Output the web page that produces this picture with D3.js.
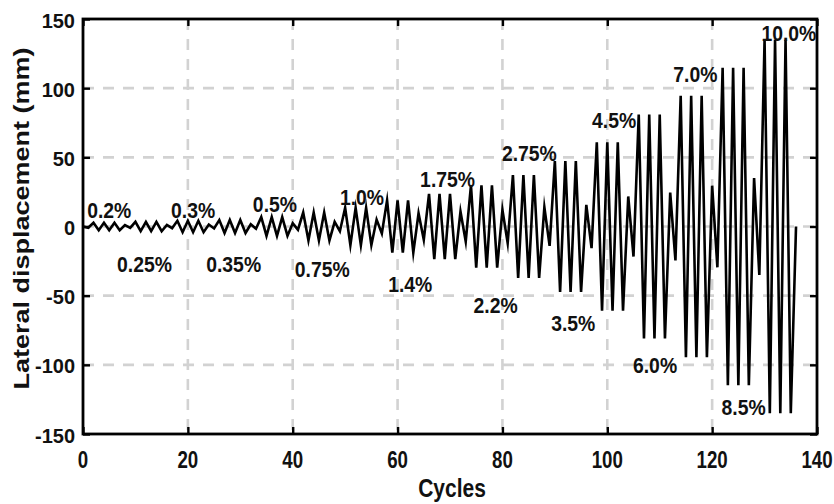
<!DOCTYPE html>
<html>
<head>
<meta charset="utf-8">
<script src="https://cdn.jsdelivr.net/npm/d3@7"></script>
<style>
  html, body { margin: 0; padding: 0; background: #fff; }
  svg { display: block; }
  text { font-family: "Liberation Sans", Arial, sans-serif; font-weight: bold; fill: #111; }
</style>
</head>
<body>
<svg id="chart" width="834" height="504"></svg>
<script>
// ---- data ----
const driftLabels = ["0.2%","0.25%","0.3%","0.35%","0.5%","0.75%","1.0%","1.4%","1.75%","2.2%","2.75%","3.5%","4.5%","6.0%","7.0%","8.5%","10.0%"];
// main amplitude (mm) of the three cycles at each drift level
const amplitudes = [2.7, 3.4, 4.1, 4.7, 6.8, 10.1, 13.5, 18.9, 23.6, 29.7, 37.1, 47.3, 60.8, 81.0, 94.5, 114.8, 135.0];
// amplitude (mm) of the small cycle preceding each drift level
const smallAmps = [0.9, 1.0, 1.2, 1.4, 1.6, 2.3, 3.4, 5.0, 9.6, 10.8, 12.0, 14.0, 15.7, 21.7, 24.5, 29.5, 35.0];
const xTicks = [0, 20, 40, 60, 80, 100, 120, 140];
const yTicks = [-150, -100, -50, 0, 50, 100, 150];
// label anchors [cycle, mm] (left edge / baseline)
const labelPos = [[0.8,6.3],[6.5,-32.7],[16.8,6.0],[23.5,-32.7],[32.4,10.8],[40.4,-36.6],[49.0,15.7],[58.2,-47.7],[64.3,28.9],[74.5,-62.6],[79.9,47.7],[89.3,-75.9],[97.1,71.1],[104.9,-106],[112.6,104.8],[121.8,-136.2],[129.4,133.8]];

// ---- build the displacement history: per level, a small cycle then three full cycles ----
const series = [];
amplitudes.forEach((A, k) => {
  const s = smallAmps[k];
  series.push([8 * k, k === 0 ? 0 : s]);
  series.push([8 * k + 1, -s]);
  for (let c = 0; c < 3; c++) {
    series.push([8 * k + 2 + 2 * c, A]);
    series.push([8 * k + 3 + 2 * c, -A]);
  }
});
series.push([8 * amplitudes.length, 0]);

// ---- drawing ----
const svg = d3.select("#chart");
const L = 83, R = 817, T = 19, B = 434;
const x = d3.scaleLinear().domain([0, 140]).range([L, R]);
const y = d3.scaleLinear().domain([-150, 150]).range([B, T]);

// grid
const grid = svg.append("g").attr("stroke", "#d2d2d2").attr("stroke-width", 2.6).attr("stroke-dasharray", "11,9");
grid.selectAll("line.v").data(xTicks.filter(d => d > 0 && d < 140)).join("line")
  .attr("x1", d => x(d)).attr("x2", d => x(d)).attr("y1", T).attr("y2", B);
grid.selectAll("line.h").data(yTicks.filter(d => d > -150 && d < 150)).join("line")
  .attr("y1", d => y(d)).attr("y2", d => y(d)).attr("x1", L).attr("x2", R);

// data line
svg.append("path").datum(series)
  .attr("fill", "none").attr("stroke", "#000").attr("stroke-width", 2.6)
  .attr("stroke-linejoin", "miter").attr("stroke-miterlimit", 10)
  .attr("d", d3.line().x(d => x(d[0])).y(d => y(d[1])));

// axes with inward ticks on all four sides
const tickLen = 7;
const axB = svg.append("g").attr("transform", `translate(0,${B})`)
  .call(d3.axisBottom(x).tickValues(xTicks).tickSize(-tickLen).tickFormat(""));
const axT = svg.append("g").attr("transform", `translate(0,${T})`)
  .call(d3.axisTop(x).tickValues(xTicks).tickSize(-tickLen).tickFormat(""));
const axL = svg.append("g").attr("transform", `translate(${L},0)`)
  .call(d3.axisLeft(y).tickValues(yTicks).tickSize(-tickLen).tickFormat(""));
const axR = svg.append("g").attr("transform", `translate(${R},0)`)
  .call(d3.axisRight(y).tickValues(yTicks).tickSize(-tickLen).tickFormat(""));
[axB, axT, axL, axR].forEach(g => {
  g.select(".domain").remove();
  g.selectAll(".tick line").attr("stroke", "#000").attr("stroke-width", 2.4);
});

// frame
svg.append("rect").attr("x", L).attr("y", T).attr("width", R - L).attr("height", B - T)
  .attr("fill", "none").attr("stroke", "#000").attr("stroke-width", 2.8);

// tick labels
svg.append("g").selectAll("text").data(xTicks).join("text")
  .attr("transform", d => `translate(${x(d)},468) scale(0.78,1)`)
  .attr("text-anchor", "middle").attr("font-size", 24).text(d => d);
svg.append("g").selectAll("text").data(yTicks).join("text")
  .attr("x", 75).attr("y", d => y(d) + 8.5)
  .attr("text-anchor", "end").attr("font-size", 20).text(d => d);

// axis titles
svg.append("text").attr("transform", `translate(452,497) scale(0.84,1)`)
  .attr("text-anchor", "middle").attr("font-size", 25).text("Cycles");
svg.append("text").attr("transform", `translate(29,218.5) rotate(-90) scale(1.2,1)`)
  .attr("text-anchor", "middle").attr("font-size", 22.5).text("Lateral displacement (mm)");

// drift labels
svg.append("g").selectAll("text").data(driftLabels).join("text")
  .attr("transform", (d, i) => `translate(${x(labelPos[i][0])},${y(labelPos[i][1])}) scale(0.88,1)`)
  .attr("font-size", 22).text(d => d);
</script>
</body>
</html>
